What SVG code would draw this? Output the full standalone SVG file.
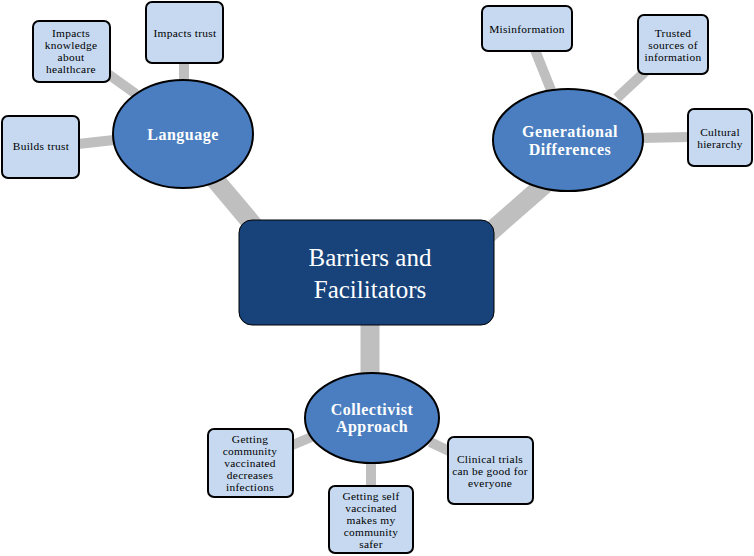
<svg xmlns="http://www.w3.org/2000/svg" width="754" height="556" viewBox="0 0 754 556">
<style>
.c{stroke:#BFBFBF;stroke-linecap:butt;fill:none}
.t{stroke-width:10}
.m{stroke-width:19}
.box{fill:#C6D9F1;stroke:#000;stroke-width:2}
.ell{fill:#4A7EC0;stroke:#000;stroke-width:2}
.s{font-family:"Liberation Serif",serif;font-size:11.4px;letter-spacing:0.3px;fill:#000;text-anchor:middle}
.b{font-family:"Liberation Serif",serif;font-size:16px;letter-spacing:0.5px;font-weight:bold;fill:#fff;text-anchor:middle}
.big{font-family:"Liberation Serif",serif;font-size:25px;fill:#fff;text-anchor:middle}
</style>
<rect width="754" height="556" fill="#fff"/>
<g id="connectors">
<line class="c m" x1="212" y1="176" x2="254" y2="226"/>
<line class="c m" x1="545" y1="184" x2="488" y2="234"/>
<line class="c m" x1="370" y1="322" x2="370" y2="376"/>
<line class="c t" x1="108" y1="74" x2="136" y2="94"/>
<line class="c t" x1="184" y1="62" x2="184" y2="82"/>
<line class="c t" x1="78" y1="144" x2="114" y2="140"/>
<line class="c t" x1="535" y1="50" x2="551" y2="90"/>
<line class="c t" x1="647" y1="70" x2="617" y2="98"/>
<line class="c t" x1="640" y1="138" x2="690" y2="137"/>
<line class="c t" x1="290" y1="446" x2="314" y2="436"/>
<line class="c t" x1="371" y1="460" x2="371" y2="488"/>
<line class="c t" x1="430" y1="442" x2="449" y2="451"/>
</g>
<g id="center">
<rect x="239" y="220" width="255" height="105" rx="13" fill="#17437A" stroke="#000" stroke-width="1"/>
<text class="big" x="370" y="266">Barriers and</text>
<text class="big" x="370" y="298">Facilitators</text>
</g>
<g id="language">
<ellipse class="ell" cx="183" cy="134" rx="70" ry="54"/>
<text class="b" x="183" y="140">Language</text>
</g>
<g id="generational">
<ellipse class="ell" cx="568" cy="140" rx="75" ry="51"/>
<text class="b" x="570" y="137">Generational</text>
<text class="b" x="570" y="155">Differences</text>
</g>
<g id="collectivist">
<ellipse class="ell" cx="372" cy="418" rx="67" ry="45"/>
<text class="b" x="372" y="415">Collectivist</text>
<text class="b" x="372" y="432">Approach</text>
</g>
<g id="n-knowledge">
<rect class="box" x="33" y="21" width="77" height="61" rx="6"/>
<text class="s" x="71" y="37">Impacts</text>
<text class="s" x="71" y="49">knowledge</text>
<text class="s" x="71" y="61">about</text>
<text class="s" x="71" y="73">healthcare</text>
</g>
<g id="n-impacts-trust">
<rect class="box" x="146" y="2" width="77" height="61" rx="6"/>
<text class="s" x="185" y="37">Impacts trust</text>
</g>
<g id="n-builds-trust">
<rect class="box" x="2" y="116" width="77" height="62" rx="6"/>
<text class="s" x="41" y="150">Builds trust</text>
</g>
<g id="n-misinformation">
<rect class="box" x="482" y="6" width="90" height="45" rx="6"/>
<text class="s" x="527" y="33">Misinformation</text>
</g>
<g id="n-trusted">
<rect class="box" x="638" y="15" width="70" height="59" rx="6"/>
<text class="s" x="673" y="37">Trusted</text>
<text class="s" x="673" y="49">sources of</text>
<text class="s" x="673" y="61">information</text>
</g>
<g id="n-cultural">
<rect class="box" x="688" y="109" width="64" height="57" rx="6"/>
<text class="s" x="720" y="136">Cultural</text>
<text class="s" x="720" y="148">hierarchy</text>
</g>
<g id="n-community">
<rect class="box" x="208" y="429" width="85" height="68" rx="6"/>
<text class="s" x="250" y="443">Getting</text>
<text class="s" x="250" y="455">community</text>
<text class="s" x="250" y="467">vaccinated</text>
<text class="s" x="250" y="479">decreases</text>
<text class="s" x="250" y="491">infections</text>
</g>
<g id="n-self">
<rect class="box" x="329" y="486" width="84" height="67" rx="6"/>
<text class="s" x="371" y="500">Getting self</text>
<text class="s" x="371" y="512">vaccinated</text>
<text class="s" x="371" y="524">makes my</text>
<text class="s" x="371" y="536">community</text>
<text class="s" x="371" y="548">safer</text>
</g>
<g id="n-clinical">
<rect class="box" x="448" y="437" width="85" height="67" rx="6"/>
<text class="s" x="490" y="463">Clinical trials</text>
<text class="s" x="490" y="475">can be good for</text>
<text class="s" x="490" y="487">everyone</text>
</g>
</svg>
